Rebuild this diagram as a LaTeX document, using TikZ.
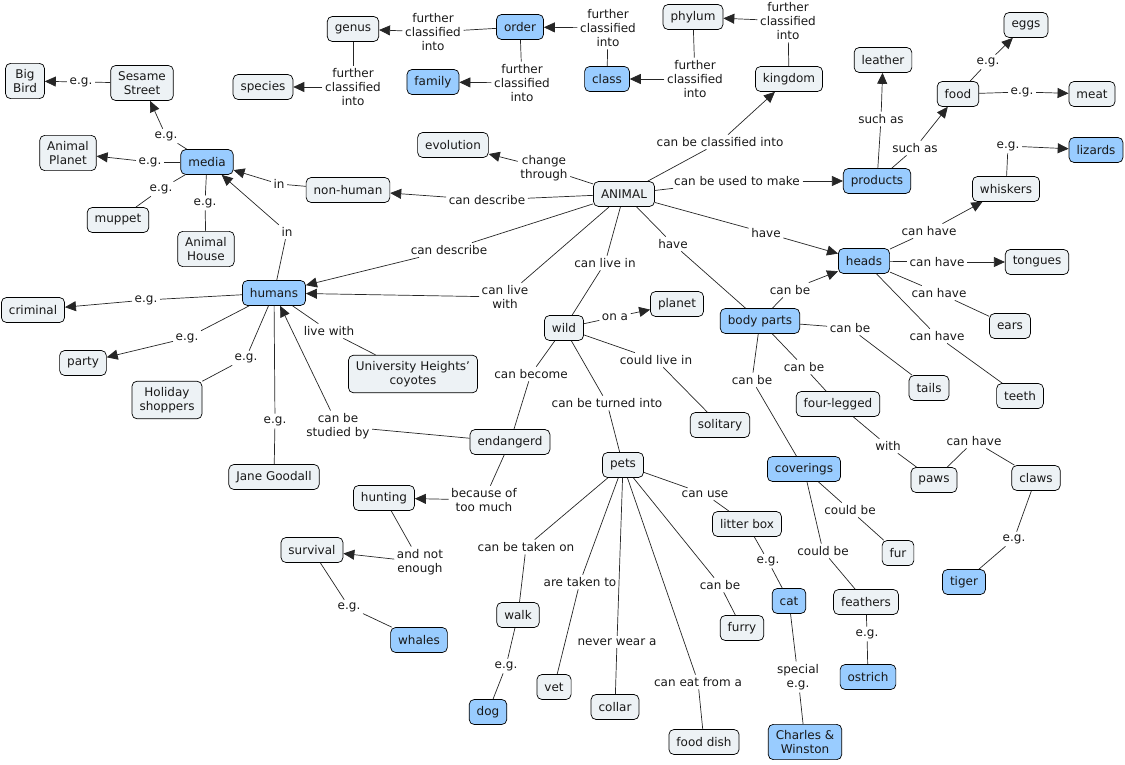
\documentclass[tikz,border=0pt]{standalone}
\usepackage{fontspec}
\setmainfont{DejaVu Sans}
\usetikzlibrary{arrows.meta}
\definecolor{lightfill}{HTML}{EDF2F5}
\definecolor{bluefill}{HTML}{99CCFF}
\newcommand\mapfont{\fontsize{12}{14}\selectfont}
\tikzset{
 cn/.style={draw=black, line width=0.7pt, rounded corners=5pt, fill=lightfill, font=\mapfont, inner xsep=7.5pt, inner ysep=6pt, minimum height=25pt, align=center, text=black!90},
 bn/.style={cn, fill=bluefill},
 lb/.style={font=\mapfont, inner sep=2.5pt, align=center, text=black!90},
 ln/.style={line width=0.7pt, draw=black!85},
 ar/.style={ln, -{Triangle[length=11pt,width=10pt]}},
}
\begin{document}
\begin{tikzpicture}[x=1pt,y=-1pt]
\useasboundingbox (0,0) rectangle (1125,765);
% concept nodes
\node[cn] (bigbird) at (25,81) {Big\\Bird};
\node[cn] (sesame) at (142,83) {Sesame\\Street};
\node[cn] (genus) at (353,29) {genus};
\node[cn] (species) at (263,87) {species};
\node[bn] (order) at (520,27) {order};
\node[bn] (family) at (433,82) {family};
\node[cn] (phylum) at (693,17) {phylum};
\node[bn] (class) at (607,79) {class};
\node[cn] (kingdom) at (789,79) {kingdom};
\node[cn] (leather) at (883,60) {leather};
\node[cn] (eggs) at (1026,25) {eggs};
\node[cn] (food) at (958,94) {food};
\node[cn] (meat) at (1092,94) {meat};
\node[cn] (evolution) at (453,145) {evolution};
\node[cn] (animal) at (624,194) {ANIMAL};
\node[bn] (products) at (877,181) {products};
\node[bn] (lizards) at (1096,150) {lizards};
\node[cn] (whiskers) at (1006,189) {whiskers};
\node[cn] (nonhuman) at (348,190) {non-human};
\node[bn] (media) at (207,162) {media};
\node[cn] (aplanet) at (68,153) {Animal\\Planet};
\node[cn] (muppet) at (118,220) {muppet};
\node[cn] (ahouse) at (206,249) {Animal\\House};
\node[bn] (heads) at (864,261) {heads};
\node[cn] (tongues) at (1037,262) {tongues};
\node[bn] (humans) at (274,293) {humans};
\node[cn] (criminal) at (33,310) {criminal};
\node[cn] (planet) at (677,304) {planet};
\node[cn] (wild) at (564,328) {wild};
\node[bn] (bodyparts) at (760,321) {body parts};
\node[cn] (ears) at (1010,326) {ears};
\node[cn] (party) at (83,363) {party};
\node[cn] (coyotes) at (413,374) {University Heights'\\coyotes};
\node[cn] (holiday) at (167,400) {Holiday\\shoppers};
\node[cn] (tails) at (929,388) {tails};
\node[cn] (teeth) at (1020,396) {teeth};
\node[cn] (fourlegged) at (838,404) {four-legged};
\node[cn] (solitary) at (720,425) {solitary};
\node[cn] (endangerd) at (510,442) {endangerd};
\node[cn] (jane) at (274,477) {Jane Goodall};
\node[cn] (pets) at (623,465) {pets};
\node[bn] (coverings) at (804,469) {coverings};
\node[cn] (paws) at (934,480) {paws};
\node[cn] (claws) at (1036,478) {claws};
\node[cn] (hunting) at (384,498) {hunting};
\node[cn] (litterbox) at (747,524) {litter box};
\node[cn] (survival) at (312,550) {survival};
\node[cn] (fur) at (898,553) {fur};
\node[bn] (tiger) at (964,582) {tiger};
\node[bn] (cat) at (789,601) {cat};
\node[cn] (feathers) at (866,602) {feathers};
\node[cn] (walk) at (518,615) {walk};
\node[cn] (furry) at (742,628) {furry};
\node[bn] (whales) at (419,640) {whales};
\node[bn] (ostrich) at (868,677) {ostrich};
\node[cn] (vet) at (554,687) {vet};
\node[cn] (collar) at (615,707) {collar};
\node[bn] (dog) at (488,712) {dog};
\node[cn] (fooddish) at (704,742) {food dish};
\node[bn] (charles) at (805,742) {Charles \&\\Winston};
% linking phrases
\node[lb] (l1) at (81,82) {e.g.};
\node[lb] (l2) at (166,136) {e.g.};
\node[lb] (l3) at (150,162) {e.g.};
\node[lb] (l4) at (161,189) {e.g.};
\node[lb] (l5) at (205,203) {e.g.};
\node[lb] (l6) at (279,184) {in};
\node[lb] (l7) at (287,232) {in};
\node[lb] (l8) at (353,87) {further\\classified\\into};
\node[lb] (l9) at (433,32) {further\\classified\\into};
\node[lb] (l10) at (522,83) {further\\classified\\into};
\node[lb] (l11) at (608,28) {further\\classified\\into};
\node[lb] (l12) at (695,79) {further\\classified\\into};
\node[lb] (l13) at (788,21) {further\\classified\\into};
\node[lb] (l14) at (720,142) {can be classified into};
\node[lb] (l15) at (544,168) {change\\through};
\node[lb] (l16) at (487,200) {can describe};
\node[lb] (l17) at (737,181) {can be used to make};
\node[lb] (l18) at (881,119) {such as};
\node[lb] (l19) at (915,148) {such as};
\node[lb] (l20) at (988,62) {e.g.};
\node[lb] (l21) at (1022,92) {e.g.};
\node[lb] (l22) at (1008,146) {e.g.};
\node[lb] (l23) at (929,231) {can have};
\node[lb] (l24) at (937,262) {can have};
\node[lb] (l25) at (939,293) {can have};
\node[lb] (l26) at (937,336) {can have};
\node[lb] (l27) at (766,233) {have};
\node[lb] (l28) at (449,250) {can describe};
\node[lb] (l29) at (505,297) {can live\\with};
\node[lb] (l30) at (605,263) {can live in};
\node[lb] (l31) at (673,244) {have};
\node[lb] (l32) at (146,300) {e.g.};
\node[lb] (l33) at (187,338) {e.g.};
\node[lb] (l34) at (246,358) {e.g.};
\node[lb] (l35) at (275,421) {e.g.};
\node[lb] (l36) at (329,331) {live with};
\node[lb] (l37) at (338,426) {can be\\studied by};
\node[lb] (l38) at (615,317) {on a};
\node[lb] (l39) at (531,374) {can become};
\node[lb] (l40) at (607,403) {can be turned into};
\node[lb] (l41) at (656,360) {could live in};
\node[lb] (l42) at (790,290) {can be};
\node[lb] (l43) at (850,328) {can be};
\node[lb] (l44) at (804,367) {can be};
\node[lb] (l45) at (752,380) {can be};
\node[lb] (l46) at (888,446) {with};
\node[lb] (l47) at (974,441) {can have};
\node[lb] (l48) at (1014,539) {e.g.};
\node[lb] (l49) at (850,510) {could be};
\node[lb] (l50) at (823,551) {could be};
\node[lb] (l51) at (867,634) {e.g.};
\node[lb] (l52) at (484,500) {because of\\too much};
\node[lb] (l53) at (420,562) {and not\\enough};
\node[lb] (l54) at (349,607) {e.g.};
\node[lb] (l55) at (705,494) {can use};
\node[lb] (l56) at (768,561) {e.g.};
\node[lb] (l57) at (798,677) {special\\e.g.};
\node[lb] (l58) at (526,547) {can be taken on};
\node[lb] (l59) at (506,666) {e.g.};
\node[lb] (l60) at (580,582) {are taken to};
\node[lb] (l61) at (617,642) {never wear a};
\node[lb] (l62) at (698,682) {can eat from a};
\node[lb] (l63) at (720,585) {can be};
% connectors
\draw[ln] (sesame) -- (l1); \draw[ar] (l1) -- (bigbird);
\draw[ln] (media) -- (l2); \draw[ar] (l2) -- (sesame);
\draw[ln] (media) -- (l3); \draw[ar] (l3) -- (aplanet);
\draw[ln] (media) -- (l4); \draw[ln] (l4) -- (muppet);
\draw[ln] (media) -- (l5); \draw[ln] (l5) -- (ahouse);
\draw[ln] (nonhuman) -- (l6); \draw[ar] (l6) -- (media);
\draw[ln] (humans) -- (l7); \draw[ar] (l7) -- (media);
\draw[ln] (genus) -- (l8); \draw[ar] (l8) -- (species);
\draw[ln] (order) -- (l9); \draw[ar] (l9) -- (genus);
\draw[ln] (order) -- (l10); \draw[ar] (l10) -- (family);
\draw[ln] (class) -- (l11); \draw[ar] (l11) -- (order);
\draw[ln] (phylum) -- (l12); \draw[ar] (l12) -- (class);
\draw[ln] (kingdom) -- (l13); \draw[ar] (l13) -- (phylum);
\draw[ln] (animal) -- (l14); \draw[ar] (l14) -- (kingdom);
\draw[ln] (animal) -- (l15); \draw[ar] (l15) -- (evolution);
\draw[ln] (animal) -- (l16); \draw[ar] (l16) -- (nonhuman);
\draw[ln] (animal) -- (l17); \draw[ar] (l17) -- (products);
\draw[ln] (products) -- (l18); \draw[ar] (l18) -- (leather);
\draw[ln] (products) -- (l19); \draw[ar] (l19) -- (food);
\draw[ln] (food) -- (l20); \draw[ar] (l20) -- (eggs);
\draw[ln] (food) -- (l21); \draw[ar] (l21) -- (meat);
\draw[ln] (whiskers) -- (l22); \draw[ar] (l22) -- (lizards);
\draw[ln] (heads) -- (l23); \draw[ar] (l23) -- (whiskers);
\draw[ln] (heads) -- (l24); \draw[ar] (l24) -- (tongues);
\draw[ln] (heads) -- (l25); \draw[ln] (l25) -- (ears);
\draw[ln] (heads) -- (l26); \draw[ln] (l26) -- (teeth);
\draw[ln] (animal) -- (l27); \draw[ar] (l27) -- (heads);
\draw[ln] (animal) -- (l28); \draw[ar] (l28) -- (humans);
\draw[ln] (animal) -- (l29); \draw[ar] (l29) -- (humans);
\draw[ln] (animal) -- (l30); \draw[ln] (l30) -- (wild);
\draw[ln] (animal) -- (l31); \draw[ln] (l31) -- (bodyparts);
\draw[ln] (humans) -- (l32); \draw[ar] (l32) -- (criminal);
\draw[ln] (humans) -- (l33); \draw[ar] (l33) -- (party);
\draw[ln] (humans) -- (l34); \draw[ln] (l34) -- (holiday);
\draw[ln] (humans) -- (l35); \draw[ln] (l35) -- (jane);
\draw[ln] (humans) -- (l36); \draw[ln] (l36) -- (coyotes);
\draw[ln] (endangerd) -- (l37); \draw[ar] (l37) -- (humans);
\draw[ln] (wild) -- (l38); \draw[ar] (l38) -- (planet);
\draw[ln] (wild) -- (l39); \draw[ln] (l39) -- (endangerd);
\draw[ln] (wild) -- (l40); \draw[ln] (l40) -- (pets);
\draw[ln] (wild) -- (l41); \draw[ln] (l41) -- (solitary);
\draw[ln] (bodyparts) -- (l42); \draw[ar] (l42) -- (heads);
\draw[ln] (bodyparts) -- (l43); \draw[ln] (l43) -- (tails);
\draw[ln] (bodyparts) -- (l44); \draw[ln] (l44) -- (fourlegged);
\draw[ln] (bodyparts) -- (l45); \draw[ln] (l45) -- (coverings);
\draw[ln] (fourlegged) -- (l46); \draw[ln] (l46) -- (paws);
\draw[ln] (paws) -- (l47); \draw[ln] (l47) -- (claws);
\draw[ln] (claws) -- (l48); \draw[ln] (l48) -- (tiger);
\draw[ln] (coverings) -- (l49); \draw[ln] (l49) -- (fur);
\draw[ln] (coverings) -- (l50); \draw[ln] (l50) -- (feathers);
\draw[ln] (feathers) -- (l51); \draw[ln] (l51) -- (ostrich);
\draw[ln] (endangerd) -- (l52); \draw[ar] (l52) -- (hunting);
\draw[ln] (hunting) -- (l53); \draw[ar] (l53) -- (survival);
\draw[ln] (survival) -- (l54); \draw[ln] (l54) -- (whales);
\draw[ln] (pets) -- (l55); \draw[ln] (l55) -- (litterbox);
\draw[ln] (litterbox) -- (l56); \draw[ln] (l56) -- (cat);
\draw[ln] (cat) -- (l57); \draw[ln] (l57) -- (charles);
\draw[ln] (pets) -- (l58); \draw[ln] (l58) -- (walk);
\draw[ln] (walk) -- (l59); \draw[ln] (l59) -- (dog);
\draw[ln] (pets) -- (l60); \draw[ln] (l60) -- (vet);
\draw[ln] (pets) -- (l61); \draw[ln] (l61) -- (collar);
\draw[ln] (pets) -- (l62); \draw[ln] (l62) -- (fooddish);
\draw[ln] (pets) -- (l63); \draw[ln] (l63) -- (furry);
\end{tikzpicture}
\end{document}
